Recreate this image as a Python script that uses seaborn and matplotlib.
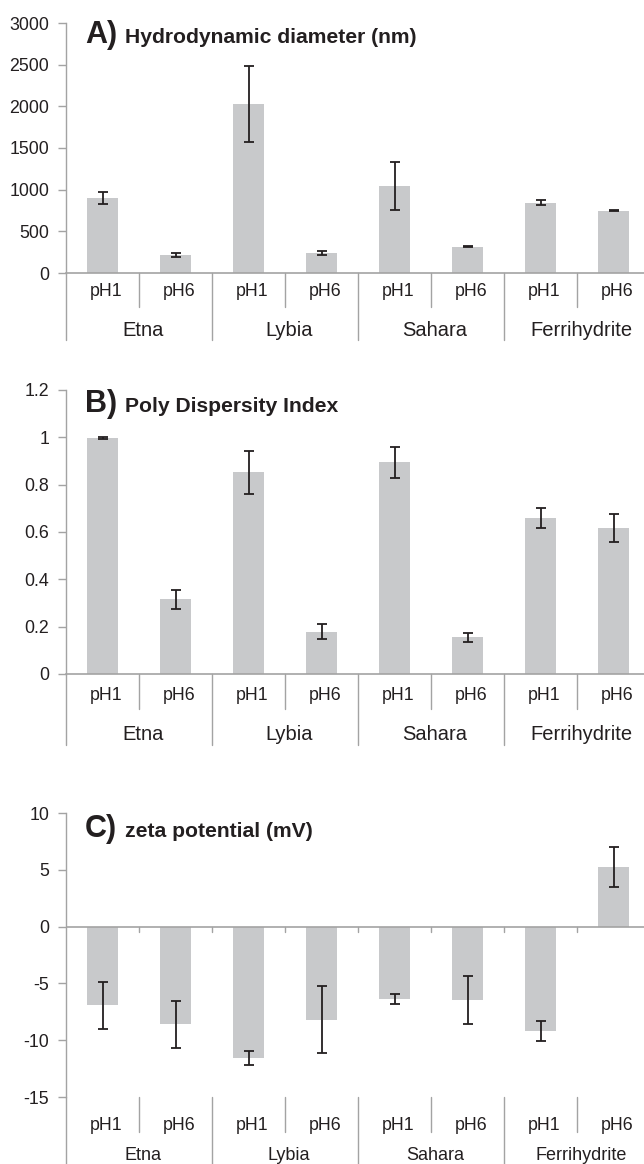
import matplotlib
matplotlib.use("Agg")
import matplotlib.pyplot as plt
import matplotlib.transforms as mtransforms
from matplotlib.lines import Line2D
import seaborn as sns
import pandas as pd
import numpy as np

# ---------------- data ----------------
groups = ["Etna", "Lybia", "Sahara", "Ferrihydrite"]
ph_levels = ["pH1", "pH6"]

diam_mean = [900, 216, 2030, 244, 1047, 318, 845, 745]
diam_err = [72, 20, 460, 25, 290, 8, 28, 6]

pdi_mean = [0.998, 0.316, 0.852, 0.179, 0.894, 0.155, 0.658, 0.617]
pdi_err = [0.003, 0.041, 0.092, 0.033, 0.066, 0.019, 0.042, 0.060]

zeta_mean = [-6.94, -8.6, -11.54, -8.2, -6.36, -6.45, -9.2, 5.27]
zeta_err = [2.1, 2.05, 0.6, 2.95, 0.45, 2.1, 0.85, 1.75]

panel_letters = ["A)", "B)", "C)"]
panel_titles = ["Hydrodynamic diameter (nm)", "Poly Dispersity Index", "zeta potential (mV)"]

yticks_a = [0, 500, 1000, 1500, 2000, 2500, 3000]
yticklabels_a = ["0", "500", "1000", "1500", "2000", "2500", "3000"]
yticks_b = [0, 0.2, 0.4, 0.6, 0.8, 1.0, 1.2]
yticklabels_b = ["0", "0.2", "0.4", "0.6", "0.8", "1", "1.2"]
yticks_c = [-15, -10, -5, 0, 5, 10]
yticklabels_c = ["-15", "-10", "-5", "0", "5", "10"]

# ---------------- style ----------------
sns.set_theme(style="white")
plt.rcParams["font.family"] = ["Liberation Sans", "DejaVu Sans"]

BAR = "#c8c9cb"
AXC = "#a3a3a3"
TXT = "#231f20"

W, H = 644, 1164
fig = plt.figure(figsize=(W / 100, H / 100), dpi=100)

LEFT_PX = 66
SLOT_PX = 73
AX_W_PX = SLOT_PX * 8

slots = [f"{g}\n{p}" for g in groups for p in ph_levels]
ph_list = [p for g in groups for p in ph_levels]


def make_axes(top_px, bottom_px):
    return fig.add_axes([LEFT_PX / W, 1 - bottom_px / H, AX_W_PX / W, (bottom_px - top_px) / H])


panels = [
    dict(mean=diam_mean, err=diam_err, ylim=(0, 3000), yt=yticks_a, ytl=yticklabels_a,
         top=23, bot=273, base=273, phsep=307, grpsep=340, phy=292, grpy=330, grpfs=14.5,
         title_base=43, zero_axis=False),
    dict(mean=pdi_mean, err=pdi_err, ylim=(0, 1.2), yt=yticks_b, ytl=yticklabels_b,
         top=390, bot=674, base=674, phsep=709, grpsep=745, phy=695, grpy=735, grpfs=14.5,
         title_base=412, zero_axis=False),
    dict(mean=zeta_mean, err=zeta_err, ylim=(-15, 10), yt=yticks_c, ytl=yticklabels_c,
         top=813, bot=1097, base=1097, phsep=1132, grpsep=1164, phy=1125, grpy=1156, grpfs=13,
         title_base=837, zero_axis=True),
]

for i, p in enumerate(panels):
    ax = make_axes(p["top"], p["bot"])
    df = pd.DataFrame({"slot": slots, "value": p["mean"]})
    sns.barplot(data=df, x="slot", y="value", order=slots, color=BAR, saturation=1,
                width=0.42, errorbar=None, linewidth=0, ax=ax)
    x = np.arange(len(slots))
    ax.errorbar(x, p["mean"], yerr=p["err"], fmt="none", ecolor=TXT, elinewidth=1.3,
                capsize=3.4, capthick=1.3, zorder=5)
    ax.set_xlim(-0.5, 7.5)
    ax.set_ylim(*p["ylim"])
    ax.set_xlabel("")
    ax.set_ylabel("")
    ax.set_xticks([])
    ax.set_yticks(p["yt"])
    ax.set_yticklabels(p["ytl"])
    ax.tick_params(axis="y", which="major", left=True, length=6, width=1, color=AXC,
                   pad=6, labelsize=12.8, labelcolor=TXT)
    for s in ["top", "right"]:
        ax.spines[s].set_visible(False)
    ax.spines["left"].set_color(AXC)
    ax.spines["left"].set_linewidth(1)
    if p["zero_axis"]:
        ax.spines["bottom"].set_visible(False)
        ax.axhline(0, color=AXC, lw=1.2, zorder=1)
        # small tick marks on zero line at category boundaries
        for b in range(1, 8):
            ax.plot([b - 0.5, b - 0.5], [0, -0.45], color=AXC, lw=1, clip_on=False)
    else:
        ax.spines["bottom"].set_color(AXC)
        ax.spines["bottom"].set_linewidth(1.2)

    tr = mtransforms.blended_transform_factory(ax.transData, fig.transFigure)
    yb = 1 - p["base"] / H
    # left spine extension
    fig.add_artist(Line2D([-0.5, -0.5], [yb, 1 - p["grpsep"] / H], transform=tr,
                          color=AXC, lw=1))
    # separators
    for b in range(1, 8):
        end = p["grpsep"] if b % 2 == 0 else p["phsep"]
        fig.add_artist(Line2D([b - 0.5, b - 0.5], [yb, 1 - end / H], transform=tr,
                              color=AXC, lw=1))
    # category labels
    off = mtransforms.ScaledTranslation(4 / 100, 0, fig.dpi_scale_trans)
    for k, ph in enumerate(ph_list):
        fig.text(k, 1 - p["phy"] / H, ph, transform=tr + off, ha="center", va="center",
                 fontsize=12.8, color=TXT)
    for g, name in enumerate(groups):
        fig.text(2 * g + 0.5, 1 - p["grpy"] / H, name, transform=tr + off, ha="center",
                 va="center", fontsize=p["grpfs"], color=TXT)

    # panel titles
    fig.text(85 / W, 1 - p["title_base"] / H, panel_letters[i], fontsize=22,
             fontweight="bold", color=TXT, va="baseline", ha="left")
    fig.text(125 / W, 1 - p["title_base"] / H, panel_titles[i], fontsize=15.2,
             fontweight="bold", color=TXT, va="baseline", ha="left")

fig.savefig("out.png", dpi=100)
